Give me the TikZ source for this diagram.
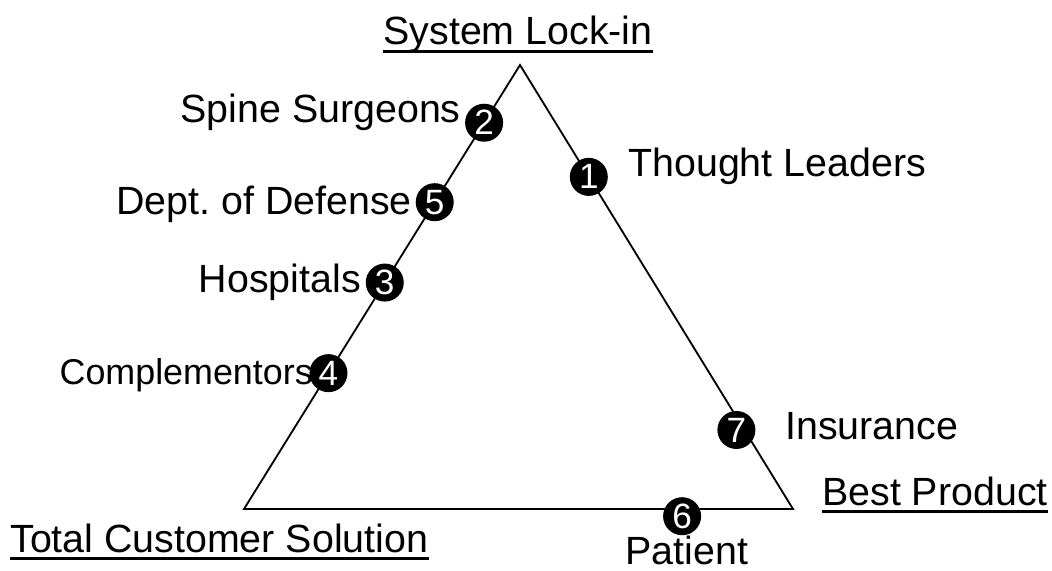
\documentclass[tikz,border=0pt]{standalone}
\usepackage{fontspec}
\setmainfont{Liberation Sans}
\usetikzlibrary{calc,positioning}

\tikzset{
  num/.style={circle, fill=black, text=white, inner sep=0pt, minimum size=0.95cm,
    font=\fontsize{25}{25}\selectfont},
  lbl/.style={inner sep=0pt, font=\fontsize{28}{32}\selectfont},
  uline/.style={line width=1.9pt}
}

\begin{document}
\begin{tikzpicture}[x=0.025cm, y=-0.025cm]
\useasboundingbox (0,0) rectangle (1052,571);
% Triangle corners
\coordinate (A) at (520,65);
\coordinate (B) at (244,509);
\coordinate (C) at (793,509);
\draw[line width=1.3pt] (A) -- (B) -- (C) -- cycle;
% Numbered markers on the sides
\node[num] (n2) at ($(A)!0.13!(B)$) {2};
\node[num] (n5) at ($(A)!0.309!(B)$) {5};
\node[num] (n3) at ($(A)!0.49!(B)$) {3};
\node[num] (n4) at ($(A)!0.694!(B)$) {4};
\node[num] (n1) at ($(A)!0.252!(C)$) {1};
\node[num, xshift=-0.2cm] (n7) at ($(A)!0.822!(C)$) {7};
\node[num, yshift=-0.18cm] (n6) at ($(B)!0.798!(C)$) {6};
% Labels
\node[lbl, anchor=base east] (spine) at (461,123) {Spine Surgeons};
\node[lbl, anchor=base west] (thought) at (628,177) {Thought Leaders};
\node[lbl, anchor=base east] (dod) at (412,215) {Dept.\ of Defense};
\node[lbl, anchor=base east] (hosp) at (361,292) {Hospitals};
\node[lbl, anchor=base east, font=\fontsize{25.5}{30}\selectfont] (compl) at (313,384) {Complementors};
\node[lbl, anchor=base west] (ins) at (785,439) {Insurance};
\node[lbl, anchor=base] (pat) at (687,564) {Patient};
% Corner headings
\node[lbl, anchor=base] (lockin) at (518,45) {System Lock-in};
\node[lbl, anchor=base west] (best) at (822,505) {Best Product};
\node[lbl, anchor=base west] (total) at (10,552) {Total Customer Solution};
\foreach \h in {lockin,best,total} {
  \draw[uline] ([yshift=-4.5pt]\h.base west) -- ([yshift=-4.5pt]\h.base east);
}
\end{tikzpicture}
\end{document}
